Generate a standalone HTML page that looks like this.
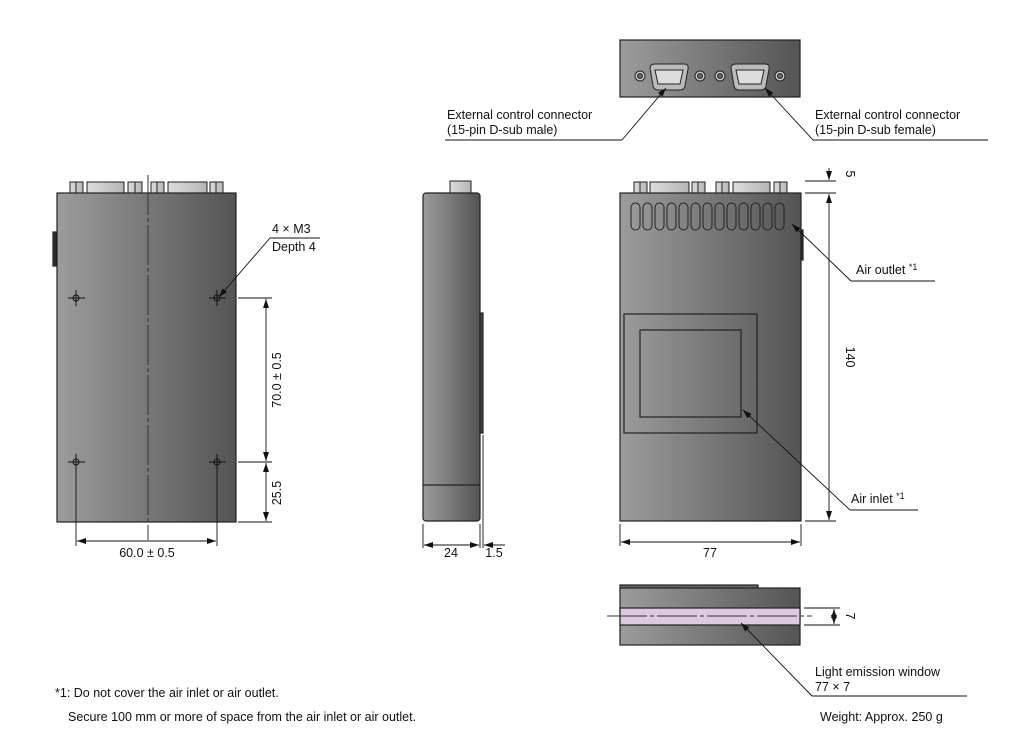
<!DOCTYPE html>
<html><head><meta charset="utf-8"><style>
html,body{margin:0;padding:0;background:#fff;}
svg{display:block;font-family:"Liberation Sans",sans-serif;}
text{font-size:12.5px;fill:#111;}
</style></head><body>
<svg width="1019" height="753" viewBox="0 0 1019 753" xmlns="http://www.w3.org/2000/svg">
<defs>
<linearGradient id="g" x1="0" x2="1" y1="0" y2="0"><stop offset="0" stop-color="#9c9c9c"/><stop offset="1" stop-color="#545454"/></linearGradient>
<linearGradient id="c" x1="0" x2="1"><stop offset="0" stop-color="#ddd"/><stop offset="1" stop-color="#b5b5b5"/></linearGradient>
<marker id="a" markerWidth="10" markerHeight="8" refX="9" refY="4" orient="auto" markerUnits="userSpaceOnUse"><path d="M0,1 L9,4 L0,7Z" fill="#111"/></marker>
<marker id="s" markerWidth="10" markerHeight="8" refX="1" refY="4" orient="auto" markerUnits="userSpaceOnUse"><path d="M10,1 L1,4 L10,7Z" fill="#111"/></marker>
</defs>
<g stroke="#222" stroke-width="1" fill="url(#c)">
<!-- left view connectors -->
<rect x="70" y="182" width="13" height="11"/><line x1="76" y1="182" x2="76" y2="193"/>
<rect x="87" y="182" width="37" height="11"/>
<rect x="128" y="182" width="14" height="11"/><line x1="135" y1="182" x2="135" y2="193"/>
<rect x="151" y="182" width="13" height="11"/><line x1="157" y1="182" x2="157" y2="193"/>
<rect x="168" y="182" width="39" height="11"/>
<rect x="210" y="182" width="13" height="11"/><line x1="216" y1="182" x2="216" y2="193"/>
<!-- right front connectors -->
<rect x="634" y="182" width="13" height="11"/><line x1="640" y1="182" x2="640" y2="193"/>
<rect x="650" y="182" width="39" height="11"/>
<rect x="692" y="182" width="13" height="11"/><line x1="698" y1="182" x2="698" y2="193"/>
<rect x="716" y="182" width="13" height="11"/><line x1="722" y1="182" x2="722" y2="193"/>
<rect x="733" y="182" width="37" height="11"/>
<rect x="774" y="182" width="13" height="11"/><line x1="780" y1="182" x2="780" y2="193"/>
<!-- side nub -->
<rect x="450" y="181" width="21" height="12"/>
</g>
<g stroke="#222" stroke-width="1.2">
<rect x="57" y="193" width="179" height="329" fill="url(#g)"/>
<rect x="53" y="232" width="3" height="34" fill="#333"/>
<rect x="423" y="193" width="57" height="328" rx="3" fill="url(#g)"/>
<line x1="423" y1="485" x2="480" y2="485"/>
<rect x="480" y="313" width="3" height="120" fill="#444"/>
<rect x="620" y="193" width="181" height="328" fill="url(#g)"/>
<rect x="801" y="230" width="2" height="30" fill="#333"/>
<rect x="624" y="314" width="133" height="119" fill="none"/>
<rect x="640" y="330" width="101" height="87" fill="none"/>
<!-- top connector view -->
<rect x="620" y="40" width="180" height="57" fill="url(#g)"/>
<!-- bottom view -->
<rect x="620" y="585" width="138" height="5" fill="#666"/>
<rect x="620" y="588" width="180" height="57" fill="url(#g)"/>
<rect x="620" y="608" width="180" height="17" fill="#dccbe0"/>
</g>
<!-- slots -->
<g stroke="#222" fill="none">
<rect x="631" y="203" width="9" height="27" rx="4.5"/><rect x="643" y="203" width="9" height="27" rx="4.5"/><rect x="655" y="203" width="9" height="27" rx="4.5"/><rect x="667" y="203" width="9" height="27" rx="4.5"/><rect x="679" y="203" width="9" height="27" rx="4.5"/><rect x="691" y="203" width="9" height="27" rx="4.5"/><rect x="703" y="203" width="9" height="27" rx="4.5"/><rect x="715" y="203" width="9" height="27" rx="4.5"/><rect x="727" y="203" width="9" height="27" rx="4.5"/><rect x="739" y="203" width="9" height="27" rx="4.5"/><rect x="751" y="203" width="9" height="27" rx="4.5"/><rect x="763" y="203" width="9" height="27" rx="4.5"/><rect x="775" y="203" width="9" height="27" rx="4.5"/>
</g>
<!-- D-subs on top view -->
<g stroke="#222">
<path d="M650,68 Q650,64 655,64 L684,64 Q689,64 688,69 L685,86 Q684,90 680,90 L658,90 Q654,90 653,86Z" fill="#bbb"/>
<path d="M655,70 L683,70 L680,84 L658,84Z" fill="#ddd"/>
<path d="M731,68 Q731,64 736,64 L765,64 Q770,64 769,69 L766,86 Q765,90 761,90 L739,90 Q735,90 734,86Z" fill="#bbb"/>
<path d="M736,70 L764,70 L761,84 L739,84Z" fill="#ddd"/>
<circle cx="640" cy="76" r="5" fill="#ccc"/><circle cx="640" cy="76" r="2.5" fill="#666"/>
<circle cx="700" cy="76" r="5" fill="#ccc"/><circle cx="700" cy="76" r="2.5" fill="#666"/>
<circle cx="720" cy="76" r="5" fill="#ccc"/><circle cx="720" cy="76" r="2.5" fill="#666"/>
<circle cx="780" cy="76" r="5" fill="#ccc"/><circle cx="780" cy="76" r="2.5" fill="#666"/>
</g>
<!-- centerlines -->
<g stroke="#333" stroke-width="1" stroke-dasharray="40,3,4,3">
<line x1="148" y1="175" x2="148" y2="540"/>
<line x1="607" y1="616" x2="812" y2="616"/>
</g>
<!-- holes -->
<g stroke="#111" fill="none">
<circle cx="76" cy="298" r="3"/><line x1="68" y1="298" x2="85" y2="298"/><line x1="76" y1="290" x2="76" y2="306"/>
<circle cx="217" cy="298" r="3"/><line x1="209" y1="298" x2="226" y2="298"/><line x1="217" y1="290" x2="217" y2="306"/>
<circle cx="76" cy="462" r="3"/><line x1="68" y1="462" x2="85" y2="462"/><line x1="76" y1="454" x2="76" y2="470"/>
<circle cx="217" cy="462" r="3"/><line x1="209" y1="462" x2="226" y2="462"/><line x1="217" y1="454" x2="217" y2="470"/>
</g>
<!-- dimension lines -->
<g stroke="#111" stroke-width="0.9" fill="none">
<line x1="238" y1="298" x2="272" y2="298"/><line x1="238" y1="462" x2="272" y2="462"/><line x1="238" y1="522" x2="272" y2="522"/>
<line x1="266" y1="299" x2="266" y2="461" marker-start="url(#s)" marker-end="url(#a)"/>
<line x1="266" y1="463" x2="266" y2="521" marker-start="url(#s)" marker-end="url(#a)"/>
<line x1="76" y1="470" x2="76" y2="546"/><line x1="217" y1="470" x2="217" y2="546"/>
<line x1="77" y1="541" x2="216" y2="541" marker-start="url(#s)" marker-end="url(#a)"/>
<line x1="270" y1="238" x2="320" y2="238"/><line x1="270" y1="238" x2="219" y2="297" marker-end="url(#a)"/>
<!-- side -->
<line x1="423" y1="524" x2="423" y2="548"/><line x1="480" y1="524" x2="480" y2="548"/><line x1="483" y1="435" x2="483" y2="548"/>
<line x1="424" y1="545" x2="479" y2="545" marker-start="url(#s)" marker-end="url(#a)"/>
<line x1="505" y1="545" x2="484" y2="545" marker-end="url(#a)"/>
<!-- right front -->
<line x1="805" y1="181" x2="836" y2="181"/><line x1="805" y1="193" x2="836" y2="193"/><line x1="805" y1="521" x2="836" y2="521"/>
<line x1="829" y1="168" x2="829" y2="180" marker-end="url(#a)"/>
<line x1="829" y1="194" x2="829" y2="520" marker-start="url(#s)" marker-end="url(#a)"/>
<line x1="620" y1="524" x2="620" y2="546"/><line x1="801" y1="524" x2="801" y2="546"/>
<line x1="621" y1="542" x2="800" y2="542" marker-start="url(#s)" marker-end="url(#a)"/>
<line x1="935" y1="281" x2="851" y2="281"/><line x1="851" y1="281" x2="792" y2="224" marker-end="url(#a)"/>
<line x1="918" y1="510" x2="850" y2="510"/><line x1="850" y1="510" x2="743" y2="410" marker-end="url(#a)"/>
<!-- top view leaders -->
<line x1="445" y1="140" x2="622" y2="140"/><line x1="622" y1="140" x2="666" y2="88" marker-end="url(#a)"/>
<line x1="988" y1="140" x2="813" y2="140"/><line x1="813" y1="140" x2="765" y2="88" marker-end="url(#a)"/>
<!-- bottom view -->
<line x1="804" y1="608" x2="840" y2="608"/><line x1="804" y1="625" x2="840" y2="625"/>
<line x1="834" y1="609" x2="834" y2="624" marker-start="url(#s)" marker-end="url(#a)"/>
<line x1="967" y1="696" x2="812" y2="696"/><line x1="812" y1="696" x2="741" y2="623" marker-end="url(#a)"/>
</g>
<!-- text -->
<text x="272" y="233">4 × M3</text>
<text x="272" y="251">Depth 4</text>
<text transform="translate(281,380) rotate(-90)" text-anchor="middle">70.0 ± 0.5</text>
<text transform="translate(281,493) rotate(-90)" text-anchor="middle">25.5</text>
<text x="147" y="557" text-anchor="middle">60.0 ± 0.5</text>
<text x="451" y="557" text-anchor="middle">24</text>
<text x="494" y="557" text-anchor="middle">1.5</text>
<text x="710" y="557" text-anchor="middle">77</text>
<text transform="translate(846,357) rotate(90)" text-anchor="middle">140</text>
<text transform="translate(846,174) rotate(90)" text-anchor="middle">5</text>
<text transform="translate(846,616) rotate(90)" text-anchor="middle">7</text>
<text x="856" y="274">Air outlet <tspan font-size="9" dy="-4">*1</tspan></text>
<text x="851" y="503">Air inlet <tspan font-size="9" dy="-4">*1</tspan></text>
<text x="447" y="119">External control connector</text>
<text x="447" y="134">(15-pin D-sub male)</text>
<text x="815" y="119">External control connector</text>
<text x="815" y="134">(15-pin D-sub female)</text>
<text x="815" y="676">Light emission window</text>
<text x="815" y="691">77 × 7</text>
<text x="820" y="721">Weight: Approx. 250 g</text>
<text x="55" y="697">*1: Do not cover the air inlet or air outlet.</text>
<text x="68" y="721">Secure 100 mm or more of space from the air inlet or air outlet.</text>
</svg>
</body></html>
